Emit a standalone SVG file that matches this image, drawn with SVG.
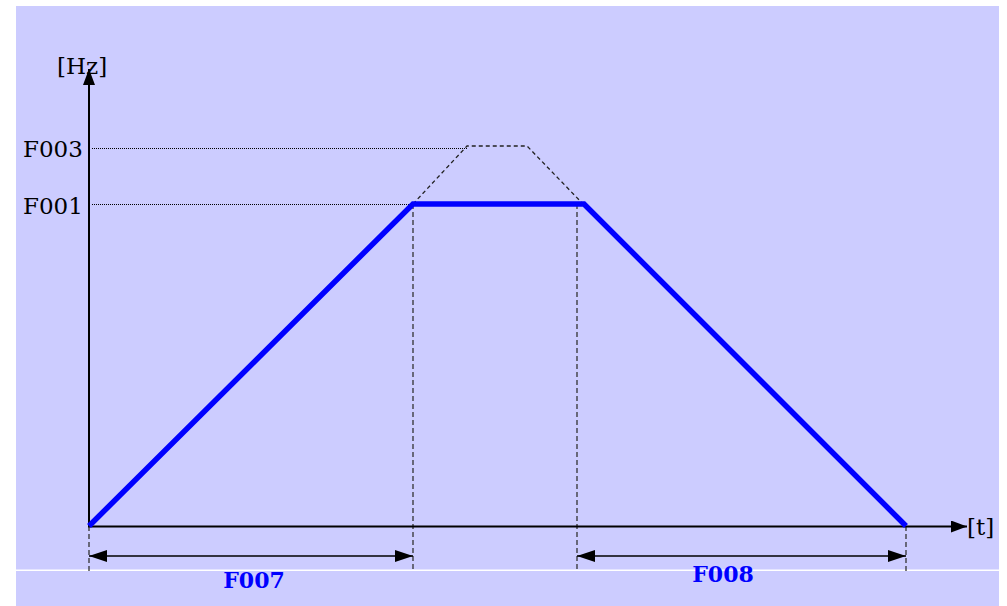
<svg xmlns="http://www.w3.org/2000/svg" width="1007" height="606" viewBox="0 0 1007 606">
<defs>
<marker id="ah" markerWidth="18" markerHeight="12" refX="18" refY="6" orient="auto-start-reverse" markerUnits="userSpaceOnUse">
<path d="M0,0 L18,6 L0,12 Z" fill="#000"/>
</marker>
<marker id="axh" markerWidth="16" markerHeight="12" refX="16" refY="6" orient="auto" markerUnits="userSpaceOnUse">
<path d="M0,0 L16,6 L0,12 Z" fill="#000"/>
</marker>
</defs>
<style>
.lbl{font-family:"DejaVu Serif",serif;font-size:23px;fill:#000}
.dim{font-family:"DejaVu Serif",serif;font-size:22px;font-weight:bold;fill:#0000ff}
.dot{stroke:#000;stroke-width:1;stroke-dasharray:1,1;fill:none}
.dash{stroke:#222;stroke-width:1.3;stroke-dasharray:4,3;fill:none}
.vd{stroke:#333;stroke-width:1.3;stroke-dasharray:5,3;fill:none}
</style>
<rect width="1007" height="606" fill="#fff"/>
<rect x="16" y="6" width="983" height="563.5" fill="#ccccff"/>
<rect x="16" y="571" width="983" height="35" fill="#ccccff"/>
<g id="connectors">
<line class="dot" x1="92" y1="148.5" x2="467" y2="148.5"/>
<line class="dot" x1="92" y1="204.5" x2="413" y2="204.5"/>
<polyline class="dash" points="413,204 467,146 527,146 584,205"/>
<line class="vd" x1="413" y1="204" x2="413" y2="569"/>
<line class="vd" x1="577" y1="204" x2="577" y2="571"/>
<line class="vd" x1="89" y1="526" x2="89" y2="572"/>
<line class="vd" x1="906" y1="526" x2="906" y2="574"/>
<line x1="89" y1="527" x2="89" y2="69" stroke="#000" stroke-width="2" marker-end="url(#axh)"/>
<line x1="88" y1="526.5" x2="967" y2="526.5" stroke="#000" stroke-width="2" marker-end="url(#axh)"/>
<polyline points="89,526 413,204 584,204 906,526" fill="none" stroke="#0000ff" stroke-width="5.5" stroke-linejoin="miter"/>
<line x1="89" y1="556" x2="413" y2="556" stroke="#000" stroke-width="1.5" marker-start="url(#ah)" marker-end="url(#ah)"/>
<line x1="577" y1="556" x2="906" y2="556" stroke="#000" stroke-width="1.5" marker-start="url(#ah)" marker-end="url(#ah)"/>
</g>
<g id="label-hz"><text class="lbl" x="57" y="74">[Hz]</text></g>
<g id="label-t"><text class="lbl" x="967" y="535">[t]</text></g>
<g id="label-f003"><text class="lbl" x="23" y="157">F003</text></g>
<g id="label-f001"><text class="lbl" x="23" y="214">F001</text></g>
<g id="label-f007"><text class="dim" x="254" y="588" text-anchor="middle">F007</text></g>
<g id="label-f008"><text class="dim" x="723" y="582" text-anchor="middle">F008</text></g>
</svg>
